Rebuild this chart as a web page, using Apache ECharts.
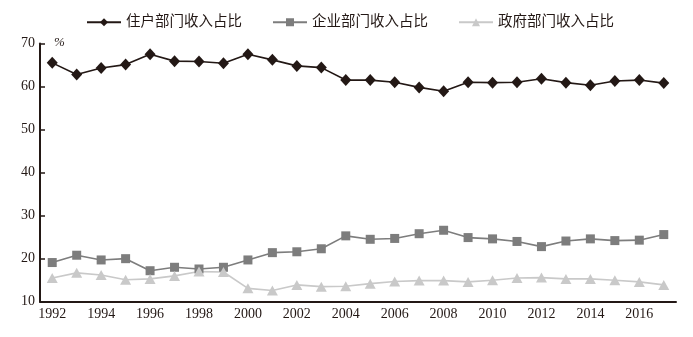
<!DOCTYPE html>
<html>
<head>
<meta charset="utf-8">
<script src="https://cdn.jsdelivr.net/npm/echarts@6/dist/echarts.min.js"></script>
<style>
  html, body { margin: 0; padding: 0; background: #fff; }
  #chart { width: 693px; height: 337px; }
</style>
</head>
<body>
<div id="chart"></div>
<script>
// Shares of income by sector, 1992-2017 (%)
const years = ['1992','1993','1994','1995','1996','1997','1998','1999','2000','2001','2002','2003','2004',
  '2005','2006','2007','2008','2009','2010','2011','2012','2013','2014','2015','2016','2017'];
const householdShare = [65.5, 62.8, 64.3, 65.1, 67.5, 65.9, 65.8, 65.4, 67.5, 66.2, 64.8, 64.4, 61.5,
  61.5, 61.0, 59.8, 58.9, 61.0, 60.9, 61.0, 61.8, 60.9, 60.3, 61.3, 61.5, 60.8];
const enterpriseShare = [19.1, 20.8, 19.7, 20.0, 17.2, 18.0, 17.6, 18.0, 19.7, 21.4, 21.6, 22.3, 25.3,
  24.5, 24.7, 25.8, 26.6, 24.9, 24.6, 24.0, 22.8, 24.1, 24.6, 24.2, 24.3, 25.6];
const governmentShare = [15.5, 16.7, 16.2, 15.1, 15.3, 16.0, 17.0, 16.9, 13.1, 12.6, 13.9, 13.5, 13.6,
  14.2, 14.7, 14.9, 14.9, 14.6, 15.0, 15.5, 15.6, 15.3, 15.3, 15.0, 14.6, 13.9];
const seriesNames = ['住户部门收入占比', '企业部门收入占比', '政府部门收入占比'];

const ink = '#231815';
const fontFamily = '"Liberation Serif", "DejaVu Serif", "Noto Sans CJK SC", serif';

const chart = echarts.init(document.getElementById('chart'), null, { renderer: 'canvas' });
chart.setOption({
  animation: false,
  backgroundColor: '#fff',
  textStyle: { fontFamily: fontFamily, color: ink },
  legend: {
    top: 10,
    left: 81,
    itemWidth: 34,
    itemHeight: 10,
    itemGap: 30,
    textStyle: { fontSize: 14.5, color: ink, fontFamily: fontFamily },
    data: seriesNames
  },
  grid: { left: 40, right: 17, top: 43.5, bottom: 35.3, containLabel: false },
  graphic: [{
    type: 'text', left: 54, top: 36,
    style: { text: '%', fontSize: 13, fontStyle: 'italic', fill: ink, fontFamily: fontFamily }
  }],
  xAxis: {
    type: 'category',
    data: years,
    boundaryGap: true,
    axisLine: { lineStyle: { color: ink, width: 2 } },
    axisTick: { inside: true, length: 5, interval: 0, lineStyle: { color: ink, width: 1.5 } },
    axisLabel: { interval: 1, margin: 6, fontSize: 14, color: ink, fontFamily: fontFamily },
    splitLine: { show: false }
  },
  yAxis: {
    type: 'value',
    min: 10, max: 70, interval: 10,
    axisLine: { show: true, lineStyle: { color: ink, width: 2 } },
    axisTick: { show: true, inside: true, length: 5, lineStyle: { color: ink, width: 1.5 } },
    axisLabel: { margin: 5, fontSize: 14, color: ink, fontFamily: fontFamily },
    splitLine: { show: false }
  },
  series: [
    {
      name: seriesNames[0], type: 'line', data: householdShare,
      symbol: 'diamond', symbolSize: [11, 12],
      itemStyle: { color: ink },
      lineStyle: { color: ink, width: 1.6 }
    },
    {
      name: seriesNames[1], type: 'line', data: enterpriseShare,
      symbol: 'rect', symbolSize: 9,
      itemStyle: { color: '#7d7d7d' },
      lineStyle: { color: '#7d7d7d', width: 1.6 }
    },
    {
      name: seriesNames[2], type: 'line', data: governmentShare,
      symbol: 'triangle', symbolSize: [11, 10],
      itemStyle: { color: '#c9c9c9' },
      lineStyle: { color: '#c9c9c9', width: 1.6 }
    }
  ]
});
</script>
</body>
</html>
